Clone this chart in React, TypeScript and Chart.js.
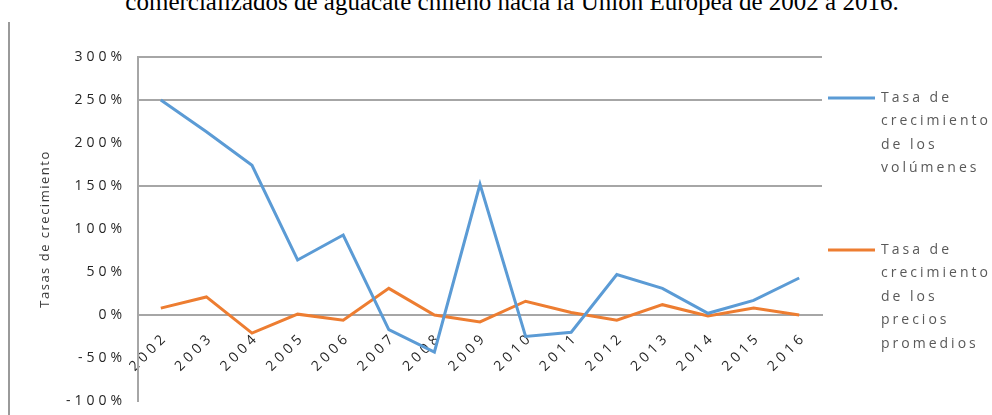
import React, { useEffect, useRef } from "react";
import { Chart, registerables } from "chart.js";

Chart.register(...registerables);

const years = ["2002", "2003", "2004", "2005", "2006", "2007", "2008", "2009", "2010", "2011", "2012", "2013", "2014", "2015", "2016"];
const volumeGrowth = [250, 213, 174, 64, 93, -17, -43, 152, -25, -20, 47, 31, 2, 17, 43];
const priceGrowth = [8, 21, -21, 1, -6, 31, 0, -8, 16, 3, -6, 12, -1, 8, 0];
const volumeLabel = ["Tasa de", "crecimiento", "de los", "volúmenes"];
const priceLabel = ["Tasa de", "crecimiento", "de los", "precios", "promedios"];
const yTickValues = [-100, -50, 0, 50, 100, 150, 200, 250, 300];
const gridValues = [150, 250, 300];
const titleText = "comercializados de aguacate chileno hacia la Unión Europea de 2002 a 2016.";
const yAxisTitle = "Tasas de crecimiento";

const BLUE = "#5B9BD5";
const ORANGE = "#ED7D31";
const GRID = "#a6a6a6";
const FONT = "'Open Sans', 'DejaVu Sans', sans-serif";

const spacingPlugin = {
  id: "spacing",
  beforeUpdate(chart: any) {
    chart.ctx.letterSpacing = "4px";
  },
  beforeDraw(chart: any) {
    chart.ctx.letterSpacing = "4px";
  },
};

const extrasPlugin = {
  id: "extras",
  afterDraw(chart: any, _args: any, opts: any) {
    const ctx = chart.ctx;
    const area = chart.chartArea;
    // y axis title
    ctx.save();
    ctx.letterSpacing = opts.titleSpacing;
    ctx.font = `${opts.titleSize}px ${FONT}`;
    ctx.fillStyle = opts.titleColor;
    ctx.translate(opts.titleX, (area.top + area.bottom) / 2);
    ctx.rotate(-Math.PI / 2);
    ctx.textAlign = "center";
    ctx.textBaseline = "middle";
    ctx.fillText(opts.title, 0, 0);
    ctx.restore();

    // legend
    ctx.save();
    ctx.letterSpacing = opts.legendSpacing;
    ctx.font = `${opts.legendSize}px ${FONT}`;
    ctx.textAlign = "left";
    ctx.textBaseline = "middle";
    let y = opts.legendY;
    chart.data.datasets.forEach((ds: any) => {
      ctx.strokeStyle = ds.borderColor;
      ctx.lineWidth = ds.borderWidth;
      ctx.beginPath();
      ctx.moveTo(opts.legendX, y);
      ctx.lineTo(opts.legendX + opts.sampleWidth, y);
      ctx.stroke();
      ctx.fillStyle = opts.legendColor;
      const lines: string[] = Array.isArray(ds.label) ? ds.label : [ds.label];
      lines.forEach((ln, i) => {
        ctx.fillText(ln, opts.legendX + opts.sampleWidth + opts.textGap, y + i * opts.lineHeight);
      });
      y += lines.length * opts.lineHeight + opts.itemGap;
    });
    ctx.restore();
  },
};

export default function App() {
  const ref = useRef<HTMLCanvasElement | null>(null);

  useEffect(() => {
    if (!ref.current) return;
    const chart = new Chart(ref.current, {
      type: "line",
      data: {
        labels: years,
        datasets: [
          {
            label: volumeLabel as any,
            data: volumeGrowth,
            borderColor: BLUE,
            backgroundColor: BLUE,
            borderWidth: 3,
            pointRadius: 0,
            tension: 0,
          },
          {
            label: priceLabel as any,
            data: priceGrowth,
            borderColor: ORANGE,
            backgroundColor: ORANGE,
            borderWidth: 3,
            pointRadius: 0,
            tension: 0,
          },
        ],
      },
      options: {
        animation: false,
        responsive: false,
        events: [],
        layout: { padding: { top: 57, right: 170, bottom: 14, left: 0 } },
        plugins: {
          legend: { display: false },
          tooltip: { enabled: false },
          extras: {
            title: yAxisTitle,
            titleX: 45,
            titleSize: 13,
            titleSpacing: "1.5px",
            titleColor: "#383838",
            legendX: 828,
            legendY: 98,
            sampleWidth: 47,
            textGap: 6,
            lineHeight: 23.5,
            itemGap: 58,
            legendSize: 14,
            legendSpacing: "3px",
            legendColor: "#595959",
          },
        } as any,
        scales: {
          x: {
            position: { y: 0 } as any,
            offset: true,
            grid: { display: false, drawTicks: false },
            border: { display: true, color: GRID, width: 2 },
            ticks: {
              autoSkip: false,
              maxRotation: 45,
              minRotation: 45,
              padding: 14,
              labelOffset: 5,
              color: "#262626",
              font: { family: FONT, size: 14 },
            },
          },
          y: {
            min: -100,
            max: 300,
            afterBuildTicks: (s: any) => {
              s.ticks = yTickValues.map((v) => ({ value: v }));
            },
            afterFit: (s: any) => {
              s.width = 138;
              s.paddingTop = 0;
              s.paddingBottom = 0;
            },
            ticks: {
              padding: 12,
              color: "#262626",
              font: { family: FONT, size: 14 },
              callback: (v: any) => `${v}%`,
            },
            grid: {
              drawTicks: false,
              lineWidth: 2,
              color: (c: any) => (c.tick && gridValues.includes(c.tick.value) ? GRID : "rgba(0,0,0,0)"),
            },
            border: { display: true, color: GRID, width: 2 },
          },
        },
      },
      plugins: [spacingPlugin, extrasPlugin],
    });
    return () => chart.destroy();
  }, []);

  return (
    <div style={{ position: "absolute", left: 0, top: 0, width: 992, height: 415, overflow: "hidden", background: "#fff" }}>
      <div
        style={{
          position: "absolute",
          left: 8,
          top: 22,
          width: 2,
          height: 393,
          background: "#9a9a9a",
        }}
      />
      <div
        style={{
          position: "absolute",
          left: 0,
          top: -11,
          width: 992,
          textAlign: "center",
          fontFamily: "'Liberation Serif', 'Times New Roman', serif",
          fontSize: 25,
          fontWeight: 400,
          lineHeight: 1,
          color: "#000",
          whiteSpace: "nowrap",
          paddingLeft: 32,
          boxSizing: "border-box",
        }}
      >
        {titleText}
      </div>
      <canvas ref={ref} width={992} height={415} style={{ position: "absolute", left: 0, top: 0, display: "block" }} />
    </div>
  );
}
